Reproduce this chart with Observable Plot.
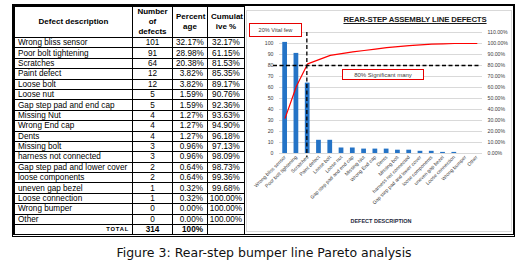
<!DOCTYPE html>
<html><head><meta charset="utf-8">
<script src="https://cdn.jsdelivr.net/npm/d3@7"></script>
<script src="https://cdn.jsdelivr.net/npm/@observablehq/plot@0.6"></script>
<style>
html,body{margin:0;padding:0;background:#fff;}
body{position:relative;width:519px;height:269px;overflow:hidden;}
#frame{position:absolute;left:12px;top:4px;width:503px;height:233px;box-sizing:border-box;border-top:2px solid #000;border-left:2px solid #000;border-right:2px solid #000;border-bottom:3px double #000;}
#tbl{position:absolute;left:14px;top:6px;width:231px;border-collapse:collapse;table-layout:fixed;font-family:"Liberation Sans",Arial,sans-serif;font-size:8.2px;color:#000;}
#tbl td{border:1px solid #000;padding:0 3px;white-space:nowrap;overflow:hidden;line-height:9px;height:9.4px;}
#tbl tr.h td{font-weight:bold;text-align:center;line-height:10px;height:29px;font-size:8px;}
#tbl td.n{text-align:center;}
#tbl td.p{text-align:right;padding-right:4px;}
#tbl td.c{text-align:center;padding:0 1px;}
#tbl tr.t td{font-weight:bold;height:9px;}
#tbl td.tl{text-align:right;font-size:5.8px;letter-spacing:0.8px;}
#panel{position:absolute;left:246px;top:10px;width:266px;height:222px;box-sizing:border-box;border:1px solid #d9d9d9;}
#chart{position:absolute;left:246px;top:10px;}
#title{position:absolute;left:300px;width:230px;top:15.5px;text-align:center;font-family:"Liberation Sans",Arial,sans-serif;font-weight:bold;font-size:7.8px;line-height:8px;letter-spacing:-0.15px;text-decoration:underline;color:#1a1a1a;white-space:nowrap;}
#xtitle{position:absolute;left:331px;width:100px;top:218px;text-align:center;font-family:"Liberation Sans",Arial,sans-serif;font-weight:bold;font-size:5.5px;line-height:6px;color:#1f2a40;white-space:nowrap;}
.box{position:absolute;box-sizing:border-box;border:1.4px solid #e60000;display:flex;align-items:center;justify-content:center;font-family:"Liberation Sans",Arial,sans-serif;color:#404040;white-space:nowrap;background:#fff;}
#box1{left:249px;top:22.7px;width:53px;height:14.6px;font-size:5.6px;}
#box2{left:342px;top:69.3px;width:82px;height:10.7px;font-size:6px;}
#caption{position:absolute;left:9px;width:510px;top:245.5px;text-align:center;font-family:"DejaVu Sans",sans-serif;font-size:12.5px;line-height:14px;color:#111;white-space:nowrap;}
</style></head>
<body>
<div id="frame"></div>
<table id="tbl"></table>
<div id="panel"></div>
<div id="chart"></div>
<div id="title">REAR-STEP ASSEMBLY LINE DEFECTS</div>
<div id="xtitle">DEFECT DESCRIPTION</div>
<div class="box" id="box1">20% Vital few</div>
<div class="box" id="box2">80% Significant many</div>
<div id="caption">Figure 3: Rear-step bumper line Pareto analysis</div>
<script>
const defects = ["Wrong bliss sensor","Poor bolt tightening","Scratches","Paint defect","Loose bolt","Loose nut","Gap step pad and end cap","Missing Nut","Wrong End cap","Dents","Missing bolt","harness not connected","Gap step pad and lower cover","loose components","uneven gap bezel","Loose connection","Wrong bumper","Other"];
const counts = [101,91,64,12,12,5,5,4,4,4,3,3,2,2,1,1,0,0];
const percents = [32.17,28.98,20.38,3.82,3.82,1.59,1.59,1.27,1.27,1.27,0.96,0.96,0.64,0.64,0.32,0.32,0.00,0.00];
const cumulative = [32.17,61.15,81.53,85.35,89.17,90.76,92.36,93.63,94.90,96.18,97.13,98.09,98.73,99.36,99.68,100.00,100.00,100.00];
const totalCount = 314;
const totalPercent = "100%";
const headers = ["Defect description","Number<br>of<br>defects","Percent<br>age","Cumulat<br>ive %"];
const countTicks = [0,10,20,30,40,50,60,70,80,90,100];
const pctTicks = [0,10,20,30,40,50,60,70,80,90,100,110];
const threshold = 80;

// ---- table ----
const tbl = document.getElementById("tbl");
let html = '<colgroup><col style="width:118px"><col style="width:40px"><col style="width:35px"><col style="width:37px"></colgroup>';
html += '<tr class="h">' + headers.map(h => `<td>${h}</td>`).join("") + '</tr>';
defects.forEach((d, i) => {
  html += `<tr><td>${d}</td><td class="n">${counts[i]}</td><td class="p">${percents[i].toFixed(2)}%</td><td class="c">${cumulative[i].toFixed(2)}%</td></tr>`;
});
html += `<tr class="t"><td class="tl">TOTAL</td><td class="n">${totalCount}</td><td class="p">${totalPercent}</td><td></td></tr>`;
tbl.innerHTML = html;

// ---- chart ----
const rows = defects.map((name, i) => ({i, name, count: counts[i], cum: cumulative[i]}));
const k = cumulative.findIndex(c => c >= threshold);
const cross = (k - 1) + (threshold - cumulative[k - 1]) / (cumulative[k] - cumulative[k - 1]);

const chart = Plot.plot({
  width: 266, height: 222,
  marginLeft: 33, marginRight: 30, marginTop: 22, marginBottom: 79,
  x: {domain: [-0.5, defects.length - 0.5]},
  y: {domain: [0, 110]},
  style: {fontFamily: "Liberation Sans, Arial, sans-serif", fontSize: "5.2px", color: "#404040", background: "transparent", overflow: "visible"},
  marks: [
    Plot.ruleY(pctTicks, {stroke: "#d9d9d9", strokeWidth: 1}),
    Plot.rectY(rows, {x1: d => d.i - 0.21, x2: d => d.i + 0.21, y: "count", fill: "#2473c6"}),
    Plot.line(rows, {x: "i", y: "cum", stroke: "#ff0000", strokeWidth: 1.2}),
    Plot.ruleY([threshold], {stroke: "#000", strokeWidth: 1.3, strokeDasharray: "4,2.5", insetLeft: -6, insetRight: 2}),
    Plot.ruleX([cross], {stroke: "#000", strokeWidth: 1.3, strokeDasharray: "4,2.5", insetBottom: -4}),
    Plot.axisY({anchor: "left", ticks: countTicks, tickSize: 0, tickPadding: 6, label: null}),
    Plot.axisY({anchor: "right", ticks: pctTicks, tickFormat: d => d.toFixed(2) + "%", tickSize: 0, tickPadding: 5, label: null}),
    Plot.axisX({ticks: rows.map(d => d.i), tickFormat: i => defects[i], tickRotate: -45, tickSize: 0, tickPadding: 3, label: null, fontSize: 5})
  ]
});
document.getElementById("chart").appendChild(chart);
</script>
</body></html>
